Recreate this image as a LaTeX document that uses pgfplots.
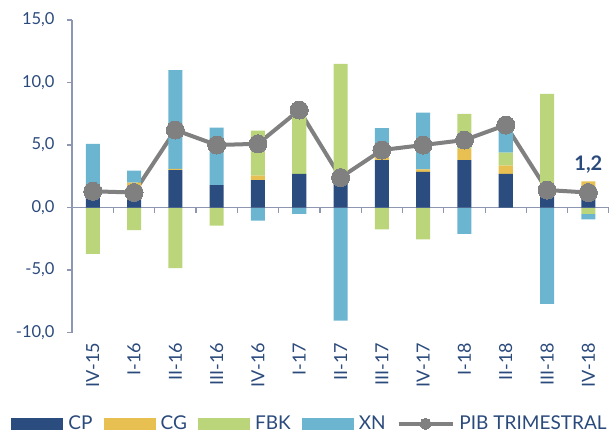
\documentclass[border=0pt]{standalone}
\usepackage{pgfplots}
\usepackage{pgfplotstable}
\pgfplotsset{compat=1.18}
\usepackage{fontspec}
\setmainfont{Lato}

\definecolor{cp}{HTML}{2B4C7E}
\definecolor{cg}{HTML}{E8C052}
\definecolor{fbk}{HTML}{BBD67A}
\definecolor{xn}{HTML}{6BB5D1}
\definecolor{pib}{HTML}{808080}
\definecolor{txt}{HTML}{2B4A7C}
\definecolor{axl}{HTML}{8E97B2}

% contributions, positive and negative parts kept apart
\pgfplotstableread{
x  CP   CG   FBKp XNp  FBKn  XNn   PIB
0  0.9  0.1  0    4.1  -3.7  0     1.3
1  1.7  0.3  0    0.95 -1.8  0     1.2
2  3.0  0.1  0    7.9  -4.85 0     6.2
3  1.8  0    0    4.6  -1.45 0     5.0
4  2.2  0.35 3.6  0    0     -1.05 5.1
5  2.7  0    4.9  0    0     -0.5  7.8
6  2.3  0    9.2  0    0     -9.05 2.4
7  3.8  0.25 0    2.3  -1.75 0     4.6
8  2.85 0.2  0    4.55 -2.55 0     5.0
9  3.8  0.9  2.8  0    0     -2.1  5.4
10 2.7  0.65 1.05 2.0  0     0     6.6
11 1.0  0.2  7.9  0    0     -7.7  1.4
12 1.6  0.5  0    0    -0.5  -0.45 1.2
}\data

\pgfplotsset{
  base/.style={
    width=536pt, height=312pt, scale only axis,
    xmin=-0.5, xmax=12.5, ymin=-10, ymax=15,
    ybar stacked, bar width=14pt,
  },
  legbar/.style={legend image code/.code={\fill[##1] (0pt,-6pt) rectangle (52pt,6pt);}},
  legline/.style={legend image code/.code={\draw[##1, line width=3.5pt, mark size=5.5pt, mark repeat=2, mark phase=2]
      plot coordinates {(0pt,0pt) (27pt,0pt) (54pt,0pt)};}},
}

\begin{document}
\begin{tikzpicture}
% negative parts and the category labels
\begin{axis}[base,
    axis y line=none, ytick=\empty,
    axis x line*=bottom, x axis line style={draw=none},
    xtick={0,...,12}, major tick length=0pt,
    xticklabels={IV-15,I-16,II-16,III-16,IV-16,I-17,II-17,III-17,IV-17,I-18,II-18,III-18,IV-18},
    xticklabel style={rotate=90, anchor=east, xshift=-7pt, font=\fontsize{18}{18}\selectfont, text=txt},
  ]
  \addplot[fill=fbk, draw=none] table[x=x, y=FBKn]{\data};
  \addplot[fill=xn, draw=none] table[x=x, y=XNn]{\data};
\end{axis}
% positive parts, axes, line and legend
\begin{axis}[base,
    axis y line*=left, axis x line=none,
    ytick={-10,-5,...,15},
    tick align=outside, major tick length=5pt,
    every tick/.style={axl, line width=1.2pt},
    axis line style={axl, line width=1.4pt},
    yticklabel style={font=\fontsize{16.5}{18}\selectfont, text=txt, xshift=-9pt,
      /pgf/number format/.cd, fixed, fixed zerofill, precision=1, use comma, assume math mode=true},
    legend style={at={(0.443,-0.292)}, anchor=center, draw=none, fill=none, inner sep=1pt,
      legend columns=-1, font=\fontsize{19}{19}\selectfont, text=txt,
      /tikz/every odd column/.append style={column sep=3pt},
      /tikz/every even column/.append style={column sep=9pt}},
  ]
  \addplot[fill=cp, draw=none, legbar] table[x=x, y=CP]{\data};
  \addplot[fill=cg, draw=none, legbar] table[x=x, y=CG]{\data};
  \addplot[fill=fbk, draw=none, legbar] table[x=x, y=FBKp]{\data};
  \addplot[fill=xn, draw=none, legbar] table[x=x, y=XNp]{\data};
  % zero line with category separators
  \draw[axl, line width=1.4pt] (axis cs:-0.5,0) -- (axis cs:12.5,0);
  \pgfplotsinvokeforeach{0,...,13}{
    \draw[axl, line width=1.2pt] (axis cs:#1-0.5,0) -- ++(0pt,-5pt);
  }
  \addplot[stack plots=false, sharp plot, pib, line width=4pt,
    mark=*, mark size=9pt, mark options={fill=pib, draw=pib, line width=0pt}, legline]
    table[x=x, y=PIB]{\data};
  \legend{CP,CG,FBK,XN,PIB TRIMESTRAL}
  \node[font=\bfseries\fontsize{20}{20}\selectfont, text=txt] at (axis cs:12,3.4) {1,2};
\end{axis}
\pgfresetboundingbox
\path (-72pt,-102pt) rectangle (543pt,332pt);
\end{tikzpicture}
\end{document}
